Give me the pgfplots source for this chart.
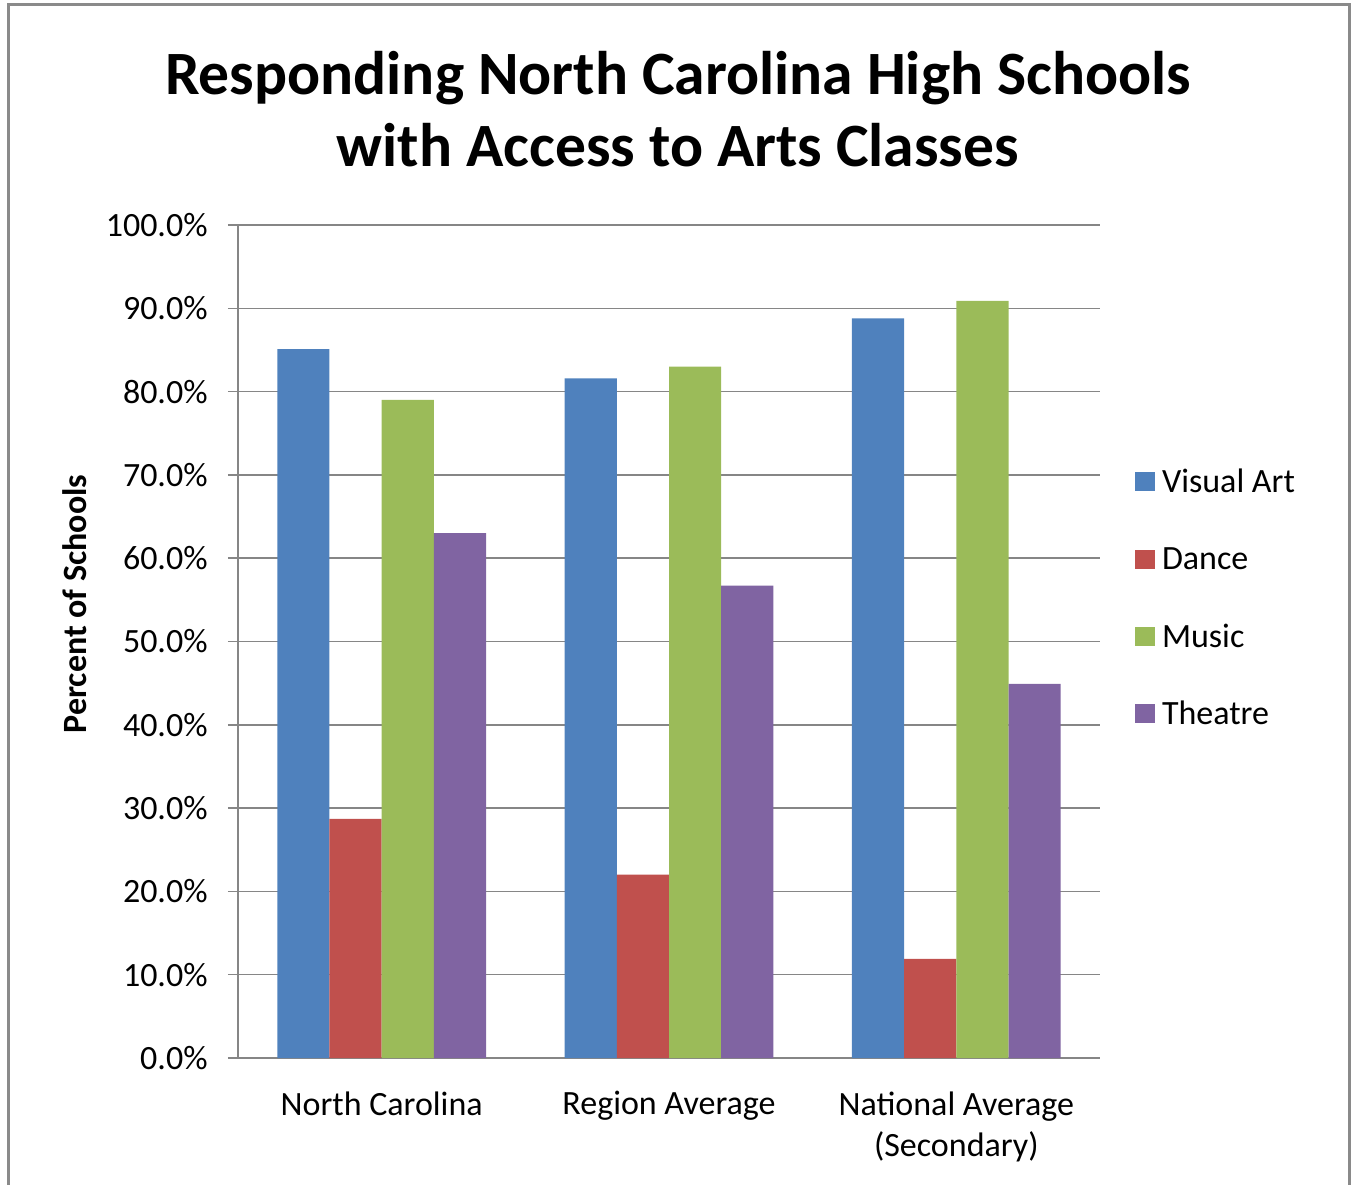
\documentclass[border=0pt]{standalone}
\usepackage{fontspec}
\setmainfont{Carlito}
\usepackage{pgfplots}
\pgfplotsset{compat=1.18}
\definecolor{cva}{HTML}{4F81BD}
\definecolor{cda}{HTML}{C0504D}
\definecolor{cmu}{HTML}{9BBB59}
\definecolor{cth}{HTML}{8064A2}
\definecolor{gridc}{HTML}{868686}
\definecolor{framec}{HTML}{8A8A8A}
\pgfplotsset{sq/.style={legend image code/.code={\fill[##1] (0pt,-4pt) rectangle (10pt,5.5pt);}}}
\begin{document}
\begin{tikzpicture}
\path[use as bounding box] (-119pt,-63pt) rectangle (557.5pt,529pt);
\draw[framec, line width=1.5pt] (-114.5pt,-90pt) rectangle (555.5pt,526.5pt);
\begin{axis}[
  at={(0pt,0pt)}, anchor=south west,
  scale only axis, width=431pt, height=416.5pt,
  ybar=0pt, bar width=26.1pt,
  xmin=-0.5, xmax=2.5, ymin=0, ymax=100,
  xtick={0,1,2},
  xticklabels={North Carolina, Region Average, {National Average\\(Secondary)}},
  ytick={0,10,20,30,40,50,60,70,80,90,100},
  yticklabels={0.0\%,10.0\%,20.0\%,30.0\%,40.0\%,50.0\%,60.0\%,70.0\%,80.0\%,90.0\%,100.0\%},
  axis x line*=bottom, axis y line*=left,
  axis line style={gridc, line width=0.75pt},
  ymajorgrids, grid style={gridc, line width=0.75pt},
  tick align=outside, major tick length=5pt,
  ytick style={gridc, line width=0.75pt},
  xtick style={draw=none},
  yticklabel style={font=\fontsize{17}{20}\selectfont, anchor=east, inner sep=0pt, xshift=-10pt},
  xticklabel style={font=\fontsize{17}{20.5}\selectfont, align=center, anchor=north, inner sep=0pt, yshift=-11.5pt},
  ylabel={Percent of Schools},
  ylabel style={font=\bfseries\fontsize{17}{20}\selectfont, at={(axis description cs:-0.189,0.545)}, anchor=center, inner sep=0pt},
  title={Responding North Carolina High Schools\\with Access to Arts Classes},
  title style={font=\bfseries\fontsize{30.8}{36}\selectfont, align=center, at={(axis description cs:0.5104,1)}, anchor=south, inner sep=0pt, yshift=23pt},
  legend style={at={(axis description cs:1.0406,0.708)}, anchor=north west, draw=none, fill=none,
     font=\fontsize{17}{20}\selectfont, row sep=23.7pt, inner sep=0pt, outer sep=0pt,
     nodes={inner sep=0pt, text height=12pt, text depth=3pt, anchor=west}, column sep=3.5pt},
  legend cell align=left,
]
\addplot[fill=cva, draw=none, sq] coordinates {(0,85.1) (1,81.6) (2,88.8)};
\addplot[fill=cda, draw=none, sq] coordinates {(0,28.7) (1,22.0) (2,11.9)};
\addplot[fill=cmu, draw=none, sq] coordinates {(0,79.0) (1,83.0) (2,90.9)};
\addplot[fill=cth, draw=none, sq] coordinates {(0,63.0) (1,56.7) (2,44.9)};
\legend{Visual Art, Dance, Music, Theatre}
\end{axis}
\end{tikzpicture}
\end{document}
